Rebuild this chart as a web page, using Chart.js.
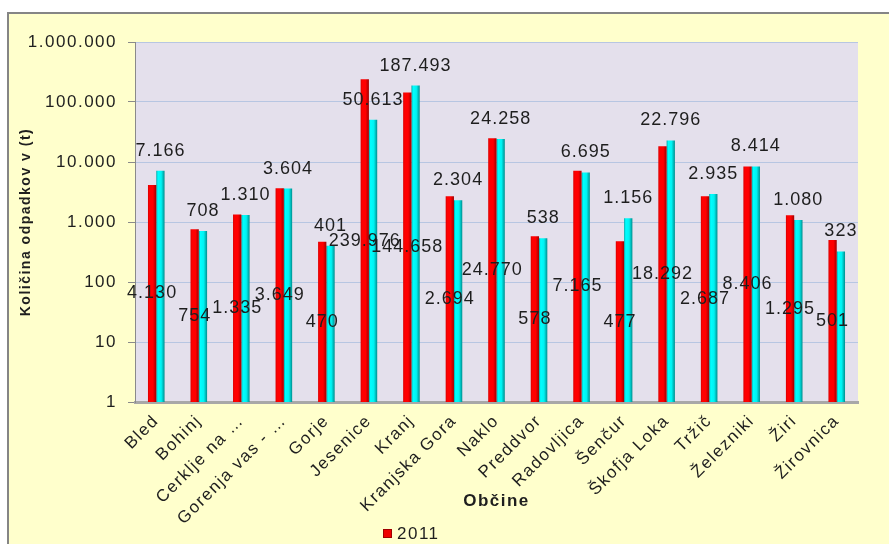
<!DOCTYPE html>
<html>
<head>
<meta charset="utf-8">
<script src="https://cdn.jsdelivr.net/npm/chart.js@4/dist/chart.umd.min.js"></script>
<style>
  body { margin: 0; background: #fff; }
  canvas { display: block; }
</style>
</head>
<body>
<canvas id="graph_canvas" width="889" height="544"></canvas>
<script>
const OBCINE = ["Bled", "Bohinj", "Cerklje na …", "Gorenja vas - …", "Gorje", "Jesenice", "Kranj", "Kranjska Gora", "Naklo",
    "Preddvor", "Radovljica", "Šenčur", "Škofja Loka", "Tržič", "Železniki", "Žiri", "Žirovnica"];
const VALUES_2011 = [4130, 754, 1335, 3649, 470, 239976, 144658, 2694, 24770, 578, 7165, 477, 18292, 2687, 8406, 1295, 501];
const VALUES_2012 = [7166, 708, 1310, 3604, 401, 50613, 187493, 2304, 24258, 538, 6695, 1156, 22796, 2935, 8414, 1080, 323];
const Y_TICKS = [1, 10, 100, 1000, 10000, 100000, 1000000];

const SPACING = '1.5px';

// 1000000 -> "1.000.000"
function fmt(v) {
    return String(v).replace(/\B(?=(\d{3})+(?!\d))/g, '.');
}

function setSpacing(chart, s) {
    if ('letterSpacing' in chart.ctx) chart.ctx.letterSpacing = s || SPACING;
}

// frame, yellow background and plot area
const backgroundPlugin = {
    id: 'background',
    beforeLayout: chart => setSpacing(chart),
    beforeDraw(chart) {
        setSpacing(chart);
        const ctx = chart.ctx;
        const a = chart.chartArea;
        ctx.save();
        ctx.fillStyle = '#ffffff';
        ctx.fillRect(0, 0, chart.width, chart.height);
        ctx.fillStyle = '#ffffcc';
        ctx.fillRect(8, 13, chart.width - 8, chart.height - 13);
        ctx.strokeStyle = '#858585';
        ctx.lineWidth = 2;
        ctx.beginPath();
        ctx.moveTo(8, chart.height);
        ctx.lineTo(8, 13);
        ctx.lineTo(chart.width, 13);
        ctx.stroke();
        ctx.fillStyle = '#e4e0ec';
        ctx.fillRect(a.left, a.top, a.right - a.left, a.bottom - a.top);
        ctx.restore();
    }
};

// shaded bars
const SHADES = [
    [[0, '#d80000'], [0.2, '#ff0000'], [0.6, '#ff0000'], [1, '#a00000']],
    [[0, '#00a8a8'], [0.2, '#00ffff'], [0.6, '#00f2f2'], [1, '#008e8e']]
];
const shadePlugin = {
    id: 'shade',
    beforeDatasetsDraw(chart) {
        const ctx = chart.ctx;
        chart.data.datasets.forEach((ds, di) => {
            chart.getDatasetMeta(di).data.forEach(bar => {
                const g = ctx.createLinearGradient(bar.x - bar.width / 2, 0, bar.x + bar.width / 2, 0);
                SHADES[di].forEach(s => g.addColorStop(s[0], s[1]));
                bar.options = { ...bar.options, backgroundColor: g };
            });
        });
    }
};

// value labels: 2011 in the middle of the bar, 2012 above it
const labelPlugin = {
    id: 'valueLabels',
    afterDatasetsDraw(chart) {
        const ctx = chart.ctx;
        ctx.save();
        setSpacing(chart, '1px');
        ctx.font = '18px "Liberation Sans", Arial, sans-serif';
        ctx.fillStyle = '#1e1e1e';
        ctx.textAlign = 'center';
        ctx.textBaseline = 'middle';
        chart.data.datasets.forEach((ds, di) => {
            chart.getDatasetMeta(di).data.forEach((bar, i) => {
                const y = di === 0 ? (bar.y + bar.base) / 2 : bar.y - 20;
                ctx.fillText(fmt(ds.data[i]), bar.x, y);
            });
        });
        ctx.restore();
        setSpacing(chart);
    },
    afterDraw(chart) {
        // legend (only the first entry fits in the picture)
        const ctx = chart.ctx;
        const ds = chart.data.datasets[0];
        ctx.save();
        setSpacing(chart);
        ctx.fillStyle = '#ee0000';
        ctx.fillRect(383, 529, 9, 9);
        ctx.strokeStyle = '#a00000';
        ctx.lineWidth = 1;
        ctx.strokeRect(383.5, 529.5, 8, 8);
        ctx.font = '17px "Liberation Sans", Arial, sans-serif';
        ctx.fillStyle = '#1e1e1e';
        ctx.textAlign = 'left';
        ctx.textBaseline = 'middle';
        ctx.fillText(ds.label, 397, 534);
        ctx.restore();
    }
};

Chart.defaults.font.family = '"Liberation Sans", Arial, sans-serif';
Chart.defaults.color = '#1e1e1e';

const graph = new Chart(document.getElementById('graph_canvas'), {
    type: 'bar',
    data: {
        labels: OBCINE,
        datasets: [{
            label: '2011',
            data: VALUES_2011,
            backgroundColor: '#ff0000',
            categoryPercentage: 0.39,
            barPercentage: 1
        }, {
            label: '2012',
            data: VALUES_2012,
            backgroundColor: '#00ffff',
            categoryPercentage: 0.39,
            barPercentage: 1
        }]
    },
    options: {
        responsive: false,
        animation: false,
        layout: { padding: { left: 8, top: 42, right: 31, bottom: 0 } },
        plugins: {
            legend: { display: false },
            tooltip: { enabled: false }
        },
        scales: {
            x: {
                afterFit: scale => { scale.height = 142; },
                grid: { display: false, drawTicks: false },
                border: { display: true, color: '#a8a8a8', width: 3 },
                ticks: {
                    autoSkip: false,
                    minRotation: 45,
                    maxRotation: 45,
                    padding: 9,
                    font: { size: 17 }
                },
                title: {
                    display: true,
                    text: 'Občine',
                    font: { size: 17, weight: 'bold' },
                    padding: { top: 4, bottom: 32 }
                }
            },
            y: {
                type: 'logarithmic',
                min: 1,
                max: 1000000,
                afterFit: scale => { scale.width = 127; },
                afterBuildTicks: scale => { scale.ticks = Y_TICKS.map(v => ({ value: v })); },
                grid: { color: '#b7c6e2', tickColor: '#8a8a8a', tickLength: 7, lineWidth: 1 },
                border: { display: true, color: '#8a8a8a', width: 1 },
                ticks: {
                    padding: 11,
                    font: { size: 17 },
                    callback: v => fmt(v)
                },
                title: {
                    display: true,
                    text: 'Količina odpadkov v (t)',
                    font: { size: 14, weight: 'bold' },
                    padding: { top: 10, bottom: 0 }
                }
            }
        }
    },
    plugins: [backgroundPlugin, shadePlugin, labelPlugin]
});
</script>
</body>
</html>
